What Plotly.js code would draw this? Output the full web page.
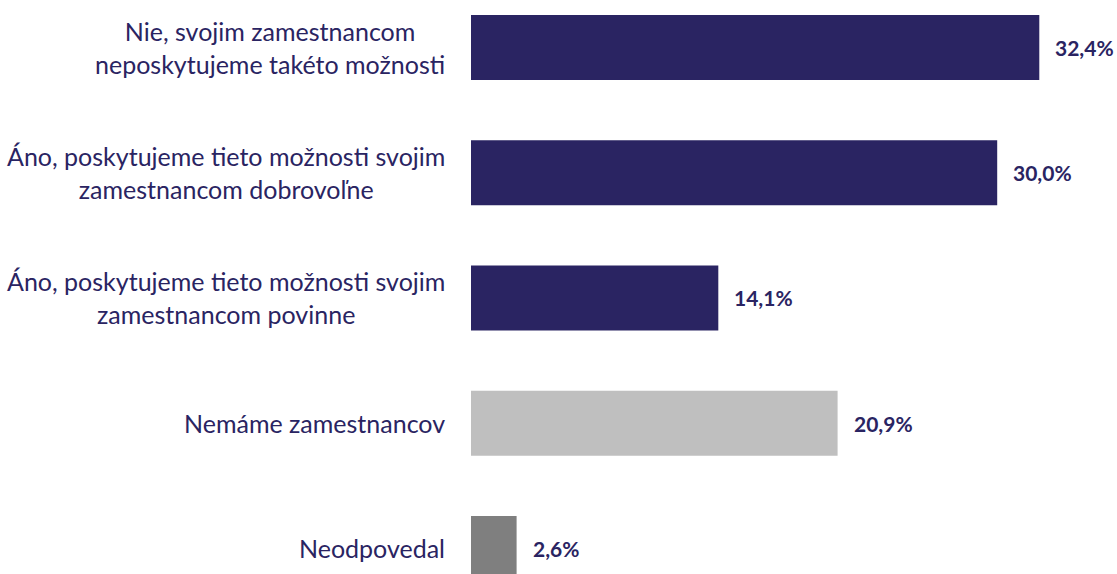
<!DOCTYPE html>
<html>
<head>
<meta charset="utf-8">
<script src="https://cdn.plot.ly/plotly-3.0.1.min.js"></script>
<style>
  html, body { margin: 0; padding: 0; background: #fff; }
  #chart { width: 1117px; height: 574px; }
</style>
</head>
<body>
<div id="chart"></div>
<script>
// answers, top to bottom
const categories = [
  'Nie, svojim zamestnancom<br>neposkytujeme takéto možnosti',
  'Áno, poskytujeme tieto možnosti svojim<br>zamestnancom dobrovoľne',
  'Áno, poskytujeme tieto možnosti svojim<br>zamestnancom povinne',
  'Nemáme zamestnancov',
  'Neodpovedal'
];
const shares = [32.4, 30.0, 14.1, 20.9, 2.6];
const barColors = ['#2a2462', '#2a2462', '#2a2462', '#bfbfbf', '#7f7f7f'];

const NAVY = '#2a2462';
const FONT = 'Lato, Carlito, Calibri, sans-serif';

const fmt = v => v.toFixed(1).replace('.', ',') + '%';

const trace = {
  type: 'bar',
  orientation: 'h',
  x: shares,
  y: categories,
  width: 0.52,
  marker: { color: barColors, line: { width: 0 } },
  hoverinfo: 'none'
};

// category labels, lines centred like the Excel original
const labelNotes = categories.map(c => ({
  xref: 'paper', yref: 'y',
  x: 0, y: c,
  xanchor: 'right', yanchor: 'middle',
  xshift: -24,
  align: 'center',
  showarrow: false,
  text: c,
  font: { family: FONT, size: 25, color: NAVY }
}));

// value labels after each bar
const valueNotes = categories.map((c, i) => ({
  xref: 'x', yref: 'y',
  x: shares[i], y: c,
  xanchor: 'left', yanchor: 'middle',
  xshift: 14,
  showarrow: false,
  text: '<b>' + fmt(shares[i]) + '</b>',
  font: { family: FONT, size: 21, color: NAVY }
}));

const layout = {
  width: 1117,
  height: 574,
  margin: { l: 471, r: 0, t: 0, b: 0 },
  paper_bgcolor: '#fff',
  plot_bgcolor: '#fff',
  showlegend: false,
  xaxis: {
    range: [0, 36.83],
    showgrid: false, zeroline: false, showline: false,
    showticklabels: false, ticks: ''
  },
  yaxis: {
    type: 'category',
    categoryorder: 'array',
    categoryarray: categories,
    range: [4.204, -0.379],
    showgrid: false, zeroline: false, showline: false,
    showticklabels: false, ticks: ''
  },
  annotations: labelNotes.concat(valueNotes)
};

Plotly.newPlot('chart', [trace], layout, { displayModeBar: false, staticPlot: true });
</script>
</body>
</html>
